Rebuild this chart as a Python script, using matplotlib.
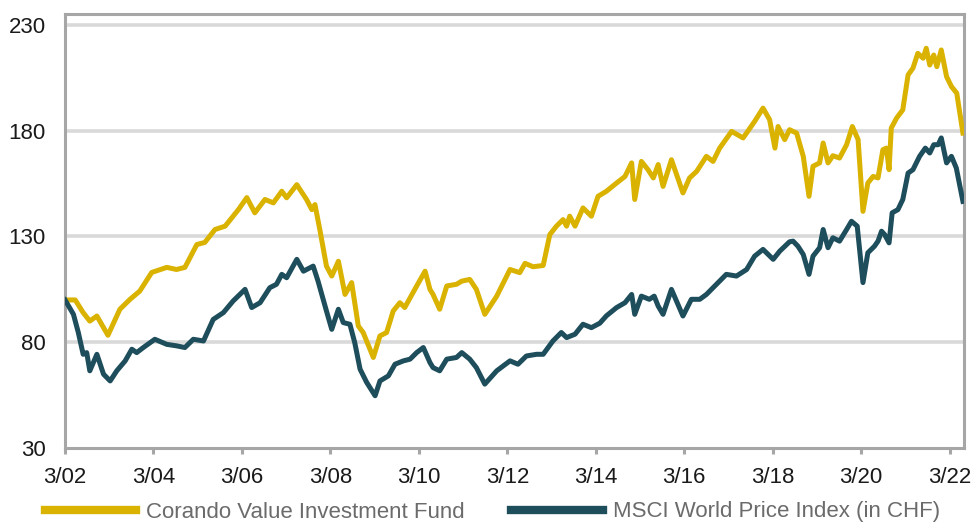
import matplotlib
import matplotlib.pyplot as plt

matplotlib.use("Agg")

plt.rcParams["font.family"] = ["Liberation Sans", "DejaVu Sans"]

# --- Data (decimal years, indexed to 100 in March 2002) ---
fund_dates = [
    2002.17, 2002.40, 2002.58, 2002.73, 2002.89, 2003.14, 2003.41, 2003.64, 2003.86,
    2004.13, 2004.47, 2004.69, 2004.88, 2005.15, 2005.33, 2005.56, 2005.79, 2005.97,
    2006.10, 2006.28, 2006.46, 2006.69, 2006.88, 2007.07, 2007.18, 2007.41, 2007.63,
    2007.75, 2007.82, 2007.93, 2008.08, 2008.20, 2008.35, 2008.50, 2008.65, 2008.80,
    2008.91, 2009.14, 2009.29, 2009.44, 2009.59, 2009.74, 2009.85, 2010.12, 2010.31,
    2010.42, 2010.49, 2010.64, 2010.80, 2011.02, 2011.14, 2011.32, 2011.47, 2011.66,
    2011.93, 2012.23, 2012.45, 2012.57, 2012.75, 2012.98, 2013.13, 2013.28, 2013.43,
    2013.51, 2013.58, 2013.70, 2013.88, 2014.07, 2014.22, 2014.41, 2014.64, 2014.83,
    2014.98, 2015.05, 2015.20, 2015.35, 2015.47, 2015.58, 2015.69, 2015.88, 2016.14,
    2016.29, 2016.45, 2016.67, 2016.82, 2016.97, 2017.24, 2017.50, 2017.76, 2017.95,
    2018.10, 2018.22, 2018.29, 2018.44, 2018.55, 2018.71, 2018.86, 2018.99, 2019.08,
    2019.23, 2019.31, 2019.42, 2019.53, 2019.68, 2019.84, 2019.97, 2020.10, 2020.21,
    2020.32, 2020.44, 2020.55, 2020.66, 2020.74, 2020.80, 2020.85, 2020.97, 2021.11,
    2021.23, 2021.34, 2021.45, 2021.57, 2021.64, 2021.72, 2021.81, 2021.88, 2021.98,
    2022.10, 2022.21, 2022.33, 2022.47,
]
fund_values = [
    100, 100, 94, 90, 92.4, 83.3, 95.6, 100.3, 104.2,
    113, 115.4, 114.4, 115.4, 126.2, 127.2, 133.3, 134.9, 139.6,
    143, 148.4, 141.2, 147.5, 145.9, 151.4, 148.3, 154.5, 147.5,
    142.7, 145.1, 133.3, 116, 111.3, 118.3, 102.6, 108.2, 87.7,
    84.6, 72.8, 83, 84.6, 94.8, 98.7, 96.4, 106.6, 113.6,
    105, 102.6, 95.6, 106.6, 107.4, 108.9, 109.7, 105, 93.2,
    101.8, 114.4, 112.9, 117.3, 115.7, 116.3, 130.9, 134.9, 138,
    134.9, 139.6, 134.9, 143.5, 139.6, 149, 151.4, 155.3, 158.4,
    164.8, 147.5, 165.5, 161.6, 157.7, 164, 153.7, 166.3, 150.6,
    157.7, 160.8, 167.9, 165.5, 171.8, 179.7, 176.6, 184.4, 190.7,
    185.2, 171.8, 182, 175.8, 180.5, 178.9, 167.9, 149, 163.2,
    164.8, 174.2, 164.8, 168.2, 167.1, 173.4, 182, 175.8, 141.9,
    155.3, 158.4, 157.7, 171, 171.8, 161.6, 181.3, 186, 189.9,
    206.4, 209.6, 216.6, 214.3, 219, 211.1, 215.8, 210.3, 218.2,
    205.6, 200.9, 197.8, 178.9,
]

msci_dates = [
    2002.17, 2002.36, 2002.47, 2002.58, 2002.66, 2002.73, 2002.89, 2003.04, 2003.19,
    2003.34, 2003.53, 2003.68, 2003.79, 2003.94, 2004.20, 2004.47, 2004.69, 2004.88,
    2005.07, 2005.30, 2005.52, 2005.75, 2005.97, 2006.24, 2006.39, 2006.58, 2006.80,
    2006.95, 2007.07, 2007.18, 2007.41, 2007.56, 2007.78, 2007.89, 2008.08, 2008.20,
    2008.35, 2008.46, 2008.61, 2008.72, 2008.84, 2008.99, 2009.18, 2009.29, 2009.48,
    2009.63, 2009.82, 2009.97, 2010.12, 2010.27, 2010.42, 2010.49, 2010.64, 2010.80,
    2011.02, 2011.14, 2011.32, 2011.47, 2011.66, 2011.93, 2012.23, 2012.41, 2012.60,
    2012.83, 2012.98, 2013.20, 2013.39, 2013.51, 2013.70, 2013.88, 2014.07, 2014.26,
    2014.41, 2014.64, 2014.83, 2014.98, 2015.05, 2015.20, 2015.38, 2015.49, 2015.58,
    2015.69, 2015.88, 2016.14, 2016.33, 2016.52, 2016.67, 2016.86, 2016.97, 2017.12,
    2017.35, 2017.58, 2017.76, 2017.95, 2018.18, 2018.33, 2018.55, 2018.63, 2018.74,
    2018.86, 2018.99, 2019.08, 2019.23, 2019.31, 2019.42, 2019.53, 2019.68, 2019.84,
    2019.95, 2020.08, 2020.21, 2020.32, 2020.47, 2020.55, 2020.63, 2020.70, 2020.80,
    2020.87, 2021.00, 2021.11, 2021.23, 2021.34, 2021.49, 2021.62, 2021.72, 2021.81,
    2021.91, 2021.98, 2022.10, 2022.21, 2022.32, 2022.47,
]
msci_values = [
    100, 93.2, 84.6, 74.3, 75.1, 66.5, 74.3, 64.9, 61.7,
    66.5, 71.2, 76.7, 75.1, 77.5, 81.4, 79, 78.3, 77.5,
    81.4, 80.6, 90.8, 94, 99.5, 105, 96.4, 98.7, 105.8,
    107.4, 112.1, 110.5, 119.2, 113.6, 116, 108.9, 94.8, 86.1,
    95.6, 89.3, 88.5, 79.8, 67.3, 61, 54.7, 61.7, 64.1,
    69.6, 71.2, 72, 75.1, 77.5, 70.4, 68, 66.5, 72,
    72.8, 75.1, 72, 68, 60.2, 66.5, 71.2, 69.6, 73.5,
    74.3, 74.3, 80.6, 84.6, 82.2, 83.8, 88.5, 86.9, 89,
    92.5, 96.4, 98.7, 102.6, 93.2, 101.8, 100.3, 101.8, 97.1,
    93.2, 105, 92.4, 100.3, 100.3, 102.6, 106.6, 108.9, 112.1,
    111.3, 114.4, 120.7, 123.9, 119.2, 123.1, 127.5, 127.8, 125.4,
    121.5, 112.1, 120.7, 124.7, 133.3, 124.7, 129.4, 127.8, 133.3,
    137.2, 134.9, 108.2, 122.3, 125.4, 127.8, 132.5, 130.9, 127,
    141.2, 142.7, 147.5, 160, 161.6, 167.9, 171.8, 169.5, 173.4,
    173.4, 176.6, 164.8, 167.9, 162.4, 146.6,
]

tick_years = [2002.17 + 2 * k for k in range(11)]
tick_labels = ["3/02", "3/04", "3/06", "3/08", "3/10", "3/12",
               "3/14", "3/16", "3/18", "3/20", "3/22"]
y_ticks = [30, 80, 130, 180, 230]

GOLD = "#DAB200"
TEAL = "#1E4D5C"
FRAME = "#A6A6A6"
GRID = "#D9D9D9"


def main() -> None:
    fig = plt.figure(figsize=(9.78, 5.25), dpi=100)
    ax = fig.add_axes([0.0665, 0.1467, 0.919, 0.8266])

    ax.plot(fund_dates, fund_values, color=GOLD, linewidth=3.6,
            solid_joinstyle="round", label="Corando Value Investment Fund", zorder=3)
    ax.plot(msci_dates, msci_values, color=TEAL, linewidth=3.6,
            solid_joinstyle="round", label="MSCI World Price Index (in CHF)", zorder=3)

    # horizontal gridlines only
    for y in y_ticks[1:]:
        ax.axhline(y, color=GRID, linewidth=2.6, zorder=1)

    ax.set_xlim(2002.17, 2022.49)
    ax.set_ylim(30, 235.2)
    ax.set_xticks(tick_years)
    ax.set_xticklabels(tick_labels)
    ax.set_yticks(y_ticks)

    for side in ["top", "bottom", "left", "right"]:
        ax.spines[side].set_color(FRAME)
        ax.spines[side].set_linewidth(2.2)

    ax.tick_params(axis="x", direction="out", length=4, width=2.2, color=FRAME,
                   labelsize=16, pad=10, labelcolor="#1a1a1a")
    ax.tick_params(axis="y", length=0, labelsize=16, pad=14, labelcolor="#1a1a1a")

    leg = ax.legend(
        loc="center left",
        bbox_to_anchor=(0.046, 1 - 512 / 525),
        bbox_transform=fig.transFigure,
        ncol=2,
        frameon=False,
        fontsize=16,
        handlelength=4.1,
        handletextpad=0.45,
        columnspacing=2.1,
        borderpad=0,
        borderaxespad=0,
    )
    for line in leg.get_lines():
        line.set_linewidth(6)
    for text in leg.get_texts():
        text.set_color("#6b6b6b")

    fig.savefig("out.png", dpi=100)
    plt.close(fig)


if __name__ == "__main__":
    main()
